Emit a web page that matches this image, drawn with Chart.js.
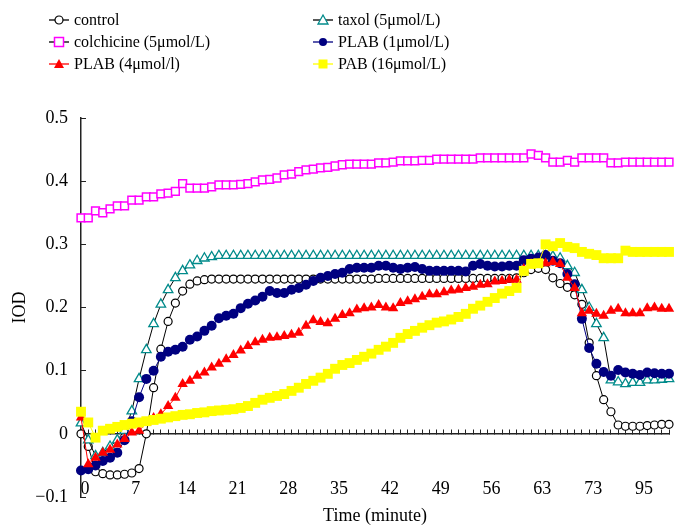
<!DOCTYPE html>
<html>
<head>
<meta charset="utf-8">
<script src="https://cdn.jsdelivr.net/npm/chart.js@4.4.1/dist/chart.umd.min.js"></script>
<style>
  body { margin: 0; background: #fff; }
  #wrap { position: relative; width: 676px; height: 527px; }
  .lg { position: absolute; height: 22px; display: flex; align-items: center; white-space: nowrap;
        font: 16px 'Liberation Serif', 'Times New Roman', serif; color: #000; }
  .lg svg { margin-right: 5px; }
</style>
</head>
<body>
<div id="wrap">
  <canvas id="iodChart" width="676" height="527"></canvas>
  <div id="legend"></div>
</div>
<script>
// tick labels on the time axis, one every 7 samples
const tickLabels = ['0', '7', '14', '21', '28', '35', '42', '49', '56', '63', '73', '95'];
const labelStep = 7;
const sampleCount = 82;

const control = [
  0.000, -0.020, -0.060, -0.063, -0.065, -0.065, -0.064, -0.062, -0.055, 0.000,
  0.073, 0.134, 0.178, 0.207, 0.226, 0.237, 0.242, 0.244, 0.245, 0.245,
  0.245, 0.245, 0.245, 0.245, 0.245, 0.245, 0.245, 0.245, 0.245, 0.245,
  0.245, 0.245, 0.245, 0.245, 0.245, 0.245, 0.245, 0.245, 0.245, 0.245,
  0.245, 0.246, 0.246, 0.246, 0.246, 0.246, 0.246, 0.246, 0.246, 0.246,
  0.246, 0.246, 0.246, 0.246, 0.246, 0.246, 0.246, 0.246, 0.246, 0.246,
  0.247, 0.255, 0.260, 0.262, 0.260, 0.247, 0.238, 0.232, 0.220, 0.205,
  0.144, 0.092, 0.054, 0.035, 0.014, 0.012, 0.012, 0.012, 0.013, 0.014,
  0.015, 0.015
];

const taxol = [
  0.017, -0.010, -0.035, -0.030, -0.020, -0.010, 0.005, 0.036, 0.087, 0.133,
  0.174, 0.205, 0.228, 0.247, 0.258, 0.267, 0.274, 0.278, 0.280, 0.282,
  0.282, 0.282, 0.282, 0.282, 0.282, 0.282, 0.282, 0.282, 0.282, 0.282,
  0.282, 0.282, 0.282, 0.282, 0.282, 0.282, 0.282, 0.282, 0.282, 0.282,
  0.282, 0.282, 0.282, 0.282, 0.282, 0.282, 0.282, 0.282, 0.282, 0.282,
  0.282, 0.282, 0.282, 0.282, 0.282, 0.282, 0.282, 0.282, 0.282, 0.282,
  0.282, 0.282, 0.282, 0.282, 0.282, 0.281, 0.278, 0.266, 0.255, 0.228,
  0.200, 0.174, 0.152, 0.085, 0.082, 0.079, 0.081, 0.081, 0.085, 0.085,
  0.086, 0.087
];

const colchicine = [
  0.342, 0.342, 0.353, 0.350, 0.356, 0.361, 0.361, 0.370, 0.370, 0.375,
  0.375, 0.380, 0.381, 0.384, 0.396, 0.389, 0.389, 0.389, 0.391, 0.394,
  0.394, 0.394, 0.395, 0.396, 0.399, 0.402, 0.403, 0.405, 0.410, 0.411,
  0.415, 0.418, 0.419, 0.421, 0.422, 0.424, 0.426, 0.427, 0.427, 0.427,
  0.427, 0.429, 0.429, 0.430, 0.432, 0.432, 0.432, 0.433, 0.433, 0.435,
  0.435, 0.435, 0.435, 0.435, 0.435, 0.437, 0.437, 0.437, 0.437, 0.437,
  0.437, 0.437, 0.443, 0.441, 0.437, 0.430, 0.430, 0.433, 0.430, 0.437,
  0.437, 0.437, 0.437, 0.429, 0.429, 0.430, 0.430, 0.430, 0.430, 0.430,
  0.430, 0.430
];

const plab1 = [
  -0.058, -0.056, -0.050, -0.043, -0.038, -0.030, -0.010, 0.020, 0.058, 0.087,
  0.100, 0.122, 0.130, 0.133, 0.138, 0.149, 0.154, 0.163, 0.171, 0.183,
  0.187, 0.190, 0.199, 0.206, 0.211, 0.217, 0.226, 0.223, 0.223, 0.228,
  0.231, 0.236, 0.242, 0.247, 0.250, 0.253, 0.255, 0.261, 0.263, 0.263,
  0.263, 0.266, 0.266, 0.263, 0.261, 0.263, 0.264, 0.261, 0.258, 0.258,
  0.258, 0.258, 0.258, 0.257, 0.266, 0.269, 0.266, 0.265, 0.265, 0.266,
  0.266, 0.275, 0.277, 0.279, 0.283, 0.274, 0.270, 0.253, 0.237, 0.182,
  0.136, 0.111, 0.098, 0.092, 0.101, 0.097, 0.095, 0.093, 0.097, 0.096,
  0.095, 0.095
];

const plab4 = [
  0.026, -0.048, -0.038, -0.030, -0.025, -0.017, -0.008, 0.002, 0.005, 0.017,
  0.025, 0.031, 0.044, 0.057, 0.079, 0.084, 0.092, 0.097, 0.105, 0.111,
  0.118, 0.125, 0.132, 0.139, 0.145, 0.149, 0.152, 0.153, 0.155, 0.157,
  0.160, 0.171, 0.180, 0.177, 0.175, 0.182, 0.188, 0.191, 0.197, 0.199,
  0.200, 0.204, 0.200, 0.199, 0.207, 0.210, 0.213, 0.217, 0.221, 0.221,
  0.224, 0.227, 0.228, 0.231, 0.233, 0.236, 0.237, 0.241, 0.242, 0.244,
  0.244, 0.261, 0.269, 0.269, 0.270, 0.272, 0.269, 0.247, 0.231, 0.191,
  0.195, 0.190, 0.187, 0.195, 0.198, 0.191, 0.191, 0.191, 0.199, 0.200,
  0.198, 0.198
];

const pab = [
  0.035, 0.018, -0.006, 0.005, 0.008, 0.011, 0.014, 0.016, 0.018, 0.020,
  0.022, 0.024, 0.026, 0.028, 0.030, 0.031, 0.033, 0.034, 0.036, 0.037,
  0.038, 0.039, 0.041, 0.044, 0.049, 0.054, 0.057, 0.060, 0.063, 0.068,
  0.073, 0.079, 0.084, 0.089, 0.095, 0.103, 0.109, 0.112, 0.117, 0.122,
  0.127, 0.133, 0.138, 0.144, 0.152, 0.158, 0.163, 0.168, 0.172, 0.176,
  0.178, 0.181, 0.185, 0.190, 0.198, 0.203, 0.209, 0.215, 0.222, 0.226,
  0.231, 0.258, 0.269, 0.270, 0.300, 0.297, 0.302, 0.296, 0.294, 0.288,
  0.285, 0.283, 0.278, 0.278, 0.278, 0.290, 0.288, 0.288, 0.288, 0.288,
  0.288, 0.288
];

const FONT = "'Liberation Serif', 'Times New Roman', serif";

// series styling; order: lower number is drawn on top
const series = [
  { label: 'control', data: control, line: '#000', stroke: '#000', fill: '#fff', style: 'circle', r: 4, bw: 1.2, order: 6, col: 0, row: 0 },
  { label: 'taxol (5μmol/L)', data: taxol, line: '#000', stroke: '#008b8b', fill: '#fff', style: 'triangle', r: 5.5, bw: 1.3, order: 5, col: 1, row: 0 },
  { label: 'colchicine (5μmol/L)', data: colchicine, line: '#000', stroke: '#ff00ff', fill: '#fff', style: 'rect', r: 5.5, bw: 1.5, order: 4, col: 0, row: 1 },
  { label: 'PLAB (1μmol/L)', data: plab1, line: '#000080', stroke: '#000080', fill: '#000080', style: 'circle', r: 5, bw: 0, order: 3, col: 1, row: 1 },
  { label: 'PLAB (4μmol/l)', data: plab4, line: '#ff0000', stroke: '#ff0000', fill: '#ff0000', style: 'triangle', r: 6, bw: 0, order: 2, col: 0, row: 2 },
  { label: 'PAB (16μmol/L)', data: pab, line: '#ffff00', stroke: '#ffff00', fill: '#ffff00', style: 'rect', r: 7, bw: 0, order: 1, col: 1, row: 2 },
];

const categories = [];
for (let i = 0; i < sampleCount; i++) {
  categories.push(i % labelStep === 0 ? tickLabels[i / labelStep] : '');
}

// html legend, two columns
function symbolSvg(s) {
  let mark = '';
  const sw = s.bw || 0;
  if (s.style === 'circle') {
    mark = `<circle cx="10" cy="7" r="4" fill="${s.fill}" stroke="${s.stroke}" stroke-width="${sw}"/>`;
  } else if (s.style === 'rect') {
    mark = `<rect x="5.5" y="2.5" width="9" height="9" fill="${s.fill}" stroke="${s.stroke}" stroke-width="${sw}"/>`;
  } else {
    mark = `<polygon points="10,2 15,11 5,11" fill="${s.fill}" stroke="${s.stroke}" stroke-width="${sw}"/>`;
  }
  return `<svg width="20" height="14"><line x1="0" y1="7" x2="20" y2="7" stroke="${s.line}" stroke-width="1.3"/>${mark}</svg>`;
}
const legendEl = document.getElementById('legend');
const colX = [49, 313];
const rowY = [9, 31, 53];
series.forEach((s) => {
  const d = document.createElement('div');
  d.className = 'lg';
  d.style.left = colX[s.col] + 'px';
  d.style.top = rowY[s.row] + 'px';
  d.innerHTML = symbolSvg(s) + '<span></span>';
  d.querySelector('span').textContent = s.label;
  legendEl.appendChild(d);
});

Chart.defaults.font.family = FONT;
Chart.defaults.color = '#000';

const ctx = document.getElementById('iodChart').getContext('2d');
new Chart(ctx, {
  type: 'line',
  data: {
    labels: categories,
    datasets: series.map((s) => ({
      label: s.label,
      data: s.data,
      order: s.order,
      borderColor: s.line,
      borderWidth: 1,
      pointStyle: s.style,
      pointRadius: s.r,
      pointBorderColor: s.stroke,
      pointBackgroundColor: s.fill,
      pointBorderWidth: s.bw,
      tension: 0,
      fill: false,
      clip: false,
    })),
  },
  options: {
    responsive: false,
    animation: false,
    devicePixelRatio: 1,
    layout: { padding: { top: 118, right: 3, bottom: 0, left: 0 } },
    plugins: {
      legend: { display: false },
      tooltip: { enabled: false },
    },
    scales: {
      // time labels, sitting just above the bottom of the plot
      x: {
        type: 'category',
        position: { y: -0.07 },
        offset: false,
        border: { display: false },
        grid: { display: false, drawTicks: false },
        ticks: {
          autoSkip: false,
          maxRotation: 0,
          minRotation: 0,
          padding: 0,
          labelOffset: 4,
          color: '#000',
          font: { family: FONT, size: 18 },
          callback: (v, i) => categories[i],
        },
      },
      // zero line with small inward tick marks
      xZero: {
        type: 'category',
        axis: 'x',
        position: { y: 0 },
        offset: false,
        border: { display: true, color: '#222', width: 1.5 },
        grid: { display: true, drawOnChartArea: false, drawTicks: true, tickLength: -5, color: '#222', lineWidth: 1 },
        ticks: { display: false, autoSkip: false },
      },
      // axis title only
      xTitle: {
        type: 'category',
        axis: 'x',
        position: 'bottom',
        border: { display: false },
        grid: { display: false, drawTicks: false },
        ticks: { display: false },
        title: {
          display: true,
          text: 'Time (minute)',
          color: '#000',
          font: { family: FONT, size: 18 },
          padding: { top: 0, bottom: 0 },
        },
        afterFit: (scale) => { scale.height = 30; },
      },
      y: {
        min: -0.1,
        max: 0.5,
        border: { display: true, color: '#222', width: 1.5 },
        grid: { drawOnChartArea: false, drawTicks: true, tickLength: -5, color: '#222' },
        ticks: {
          stepSize: 0.1,
          padding: 18,
          color: '#000',
          font: { family: FONT, size: 18 },
          callback: (v) => {
            const r = Math.round(v * 10) / 10;
            if (r === 0) return '0';
            return (r < 0 ? '\u2212' : '') + Math.abs(r).toFixed(1);
          },
        },
        title: {
          display: true,
          text: 'IOD',
          color: '#000',
          font: { family: FONT, size: 18 },
          padding: { top: 9, bottom: 0 },
        },
        afterFit: (scale) => { scale.width = 81; },
      },
    },
  },
});
</script>
</body>
</html>
